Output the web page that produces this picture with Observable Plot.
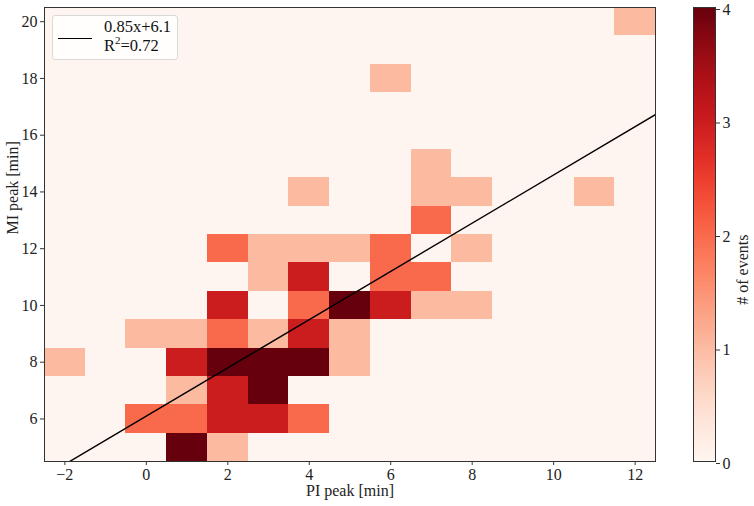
<!DOCTYPE html>
<html>
<head>
<meta charset="utf-8">
<script src="https://cdn.jsdelivr.net/npm/d3@7"></script>
<script src="https://cdn.jsdelivr.net/npm/@observablehq/plot@0.6"></script>
<style>
  html, body { margin: 0; padding: 0; background: #fff; }
  #wrap { position: relative; width: 754px; height: 506px; font-family: "Liberation Serif", "DejaVu Serif", serif; }
  #main { position: absolute; left: 0; top: 0; }
  #cbar { position: absolute; left: 670px; top: 0; }
  #wrap svg text { font-family: "Liberation Serif", "DejaVu Serif", serif; font-variant: normal; }
  #legend { position: absolute; left: 52px; top: 15px; width: 126px; height: 45px;
            border: 1px solid #d9d9d9; border-radius: 3px; background: rgba(255,255,255,0.85);
            font-size: 16.5px; color: #111; box-sizing: border-box; }
  #legend .swatch { position: absolute; left: 5px; top: 22px; width: 34px; border-top: 1.5px solid #000; }
  #legend .t1 { position: absolute; left: 51px; top: 2.5px; line-height: 16px; white-space: nowrap; }
  #legend .t2 { position: absolute; left: 51px; top: 22px; line-height: 16px; white-space: nowrap; }
  #legend sup { font-size: 11px; line-height: 0; vertical-align: baseline; position: relative; top: -7px; }
</style>
</head>
<body>
<div id="wrap">
  <div id="main"></div>
  <div id="cbar"></div>
  <div id="legend"></div>
</div>
<script>
// ---- data: 2D histogram cells (bin centres, counts) ----
const peakPI = [1, 2, 0, 1, 2, 3, 4, 1, 2, 3, -2, 1, 2, 3, 4, 5, 0, 1, 2, 3, 4, 5, 2, 4, 5, 6, 7, 8, 3, 4, 6, 7, 2, 3, 4, 5, 6, 8, 7, 4, 7, 8, 11, 7, 6, 12];
const peakMI = [5, 5, 6, 6, 6, 6, 6, 7, 7, 7, 8, 8, 8, 8, 8, 8, 9, 9, 9, 9, 9, 9, 10, 10, 10, 10, 10, 10, 11, 11, 11, 11, 12, 12, 12, 12, 12, 12, 13, 14, 14, 14, 14, 15, 18, 20];
const counts = [4, 1, 2, 2, 3, 3, 2, 1, 3, 4, 1, 3, 4, 4, 4, 1, 1, 1, 2, 1, 3, 1, 3, 2, 4, 3, 1, 1, 1, 3, 2, 2, 2, 1, 1, 1, 2, 1, 2, 1, 1, 1, 1, 1, 1, 1];

// axis setup
const xDomain = [-2.5, 12.5];
const yDomain = [4.5, 20.5];
const xTicks = [-2, 0, 2, 4, 6, 8, 10, 12];
const yTicks = [6, 8, 10, 12, 14, 16, 18, 20];
const cbarTicks = [0, 1, 2, 3, 4];
const colorDomain = [0, 4];

// linear fit
const fitSlope = 0.85;
const fitIntercept = 6.1;
const fitR2 = 0.72;

// labels
const xLabel = "PI peak [min]";
const yLabel = "MI peak [min]";
const cLabel = "# of events";

// ---- build full grid (empty bins are 0) ----
const lookup = new Map(peakPI.map((x, i) => [x + "," + peakMI[i], counts[i]]));
const binsX = d3.range(Math.ceil(xDomain[0]), xDomain[1]);
const binsY = d3.range(Math.ceil(yDomain[0]), yDomain[1]);
const grid = [];
for (const y of binsY) for (const x of binsX) grid.push({x, y, n: lookup.get(x + "," + y) ?? 0});

const fitLine = xDomain.map(x => ({x, y: fitSlope * x + fitIntercept}));

const font = "Liberation Serif, DejaVu Serif, serif";
const ink = "#222";
const fmt = d => String(d).replace("-", "\u2212");

const main = Plot.plot({
  width: 670,
  height: 506,
  marginLeft: 44,
  marginRight: 15,
  marginTop: 7,
  marginBottom: 45,
  style: {fontFamily: font, fontSize: "16px", color: ink, background: "transparent"},
  x: {domain: xDomain},
  y: {domain: yDomain},
  color: {type: "linear", scheme: "reds", domain: colorDomain},
  marks: [
    Plot.rect(grid, {x1: d => d.x - 0.5, x2: d => d.x + 0.5, y1: d => d.y - 0.5, y2: d => d.y + 0.5, fill: "n", inset: 0, shapeRendering: "crispEdges"}),
    Plot.line(fitLine, {x: "x", y: "y", stroke: "black", strokeWidth: 1.4, clip: true}),
    Plot.frame({stroke: "#333", strokeWidth: 1}),
    Plot.axisX({ticks: xTicks, tickFormat: fmt, tickSize: 4, tickPadding: 3, label: null, stroke: "#333", fontFamily: font, fontSize: 16}),
    Plot.axisY({ticks: yTicks, tickFormat: fmt, tickSize: 4, tickPadding: 3, label: null, stroke: "#333", fontFamily: font, fontSize: 16}),
    Plot.text([xLabel], {text: d => d, frameAnchor: "bottom", dy: 34, fill: ink, fontSize: 16, fontFamily: font}),
    Plot.text([yLabel], {text: d => d, frameAnchor: "left", rotate: -90, dx: -32, fill: ink, fontSize: 16, fontFamily: font})
  ]
});
document.getElementById("main").appendChild(main);

// ---- colour bar ----
const step = 0.02;
const bands = d3.range(colorDomain[0], colorDomain[1], step).map(v => ({v}));
const cbar = Plot.plot({
  width: 84,
  height: 506,
  marginLeft: 23,
  marginRight: 39,
  marginTop: 7,
  marginBottom: 45,
  style: {fontFamily: font, fontSize: "16px", color: ink, background: "transparent", overflow: "visible"},
  x: {axis: null, domain: [0, 1]},
  y: {domain: colorDomain},
  color: {type: "linear", scheme: "reds", domain: colorDomain},
  marks: [
    Plot.rect(bands, {x1: 0, x2: 1, y1: "v", y2: d => d.v + step, fill: d => d.v + step / 2, shapeRendering: "crispEdges"}),
    Plot.frame({stroke: "#333", strokeWidth: 1}),
    Plot.axisY({anchor: "right", ticks: cbarTicks, tickFormat: d => String(d), tickSize: 4, tickPadding: 3, label: null, stroke: "#333", fontFamily: font, fontSize: 16, dy: 2}),
    Plot.text([cLabel], {text: d => d, frameAnchor: "right", rotate: -90, dx: 27, fill: ink, fontSize: 16, fontFamily: font})
  ]
});
document.getElementById("cbar").appendChild(cbar);

// ---- legend ----
document.getElementById("legend").innerHTML =
  `<div class="swatch"></div><div class="t1">${fitSlope}x+${fitIntercept}</div><div class="t2">R<sup>2</sup>=${fitR2}</div>`;
</script>
</body>
</html>
